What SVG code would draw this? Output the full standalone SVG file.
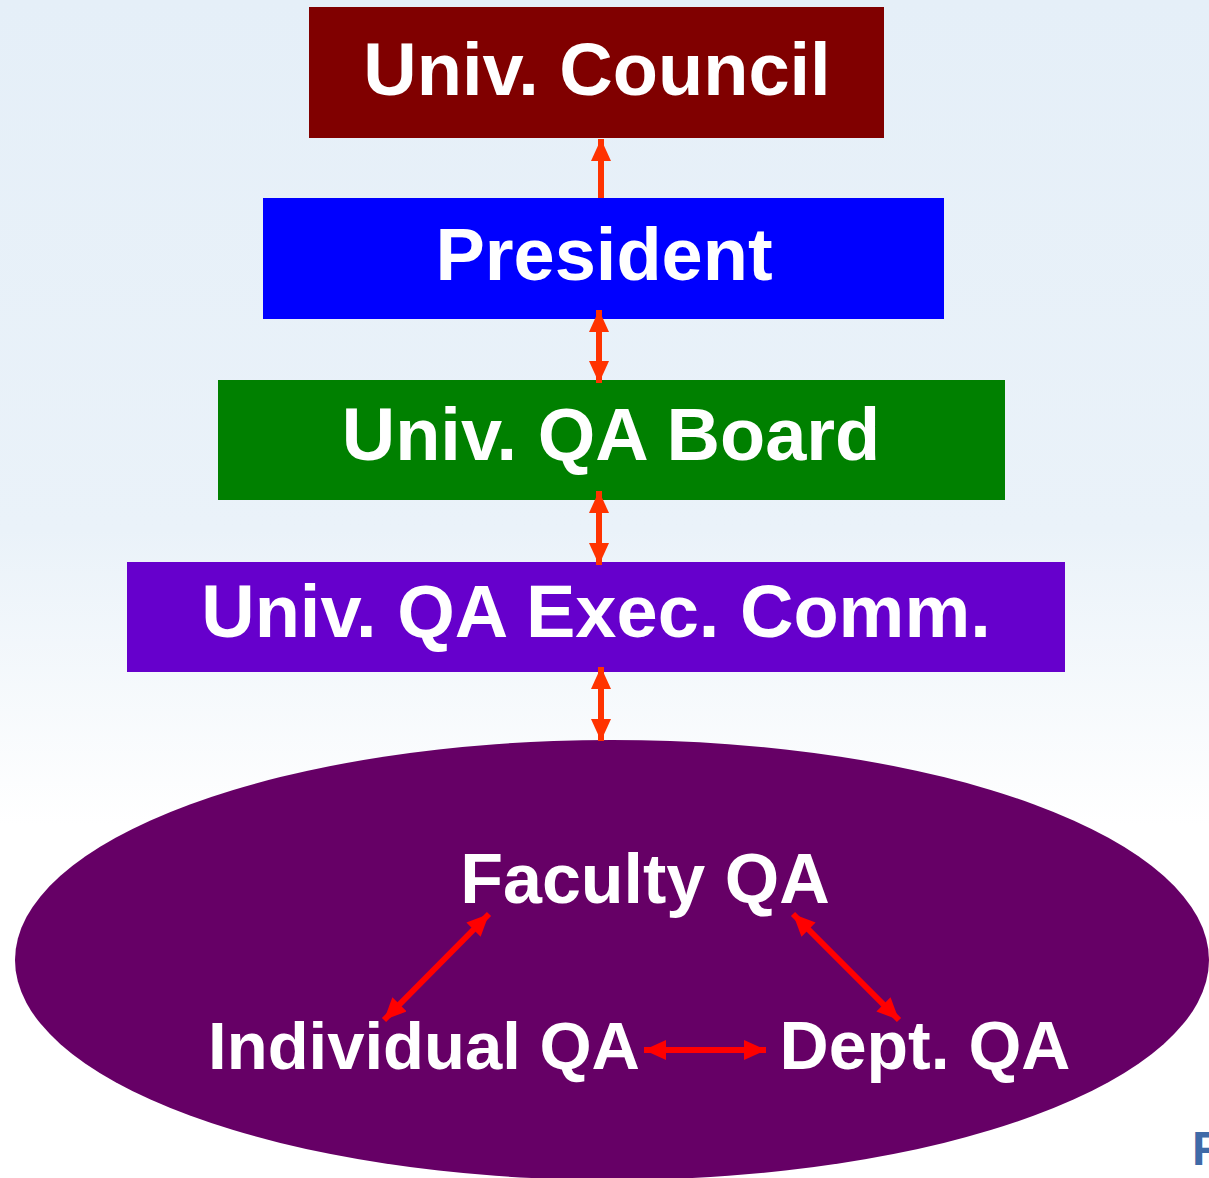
<svg xmlns="http://www.w3.org/2000/svg" width="1209" height="1178" viewBox="0 0 1209 1178">
<defs>
<linearGradient id="bg" x1="0" y1="0" x2="0" y2="1">
<stop offset="0" stop-color="#e5eff8"/>
<stop offset="0.45" stop-color="#eaf2f9"/>
<stop offset="0.7" stop-color="#ffffff"/>
<stop offset="1" stop-color="#ffffff"/>
</linearGradient>
<marker id="ao" markerUnits="userSpaceOnUse" markerWidth="22" markerHeight="20" refX="22" refY="10" orient="auto-start-reverse" viewBox="0 0 22 20">
<path d="M0,0 L22,10 L0,20 Z" fill="#ff3300"/>
</marker>
<marker id="ar" markerUnits="userSpaceOnUse" markerWidth="22" markerHeight="20" refX="22" refY="10" orient="auto-start-reverse" viewBox="0 0 22 20">
<path d="M0,0 L22,10 L0,20 Z" fill="#ff0000"/>
</marker>
<style>
.t{font-family:"Liberation Sans",Arial,sans-serif;font-weight:bold;fill:#ffffff;text-anchor:middle}
.big{font-size:74px}
.mid{font-size:68px}
.co{stroke:#ff3300;stroke-width:6;fill:none}
.cr{stroke:#ff0000;stroke-width:6;fill:none}
</style>
</defs>
<rect width="1209" height="1178" fill="url(#bg)"/>
<g id="council">
<rect x="309" y="7" width="575" height="131" fill="#800000"/>
<text class="t big" x="597" y="95">Univ. Council</text>
</g>
<g id="president">
<rect x="263" y="198" width="681" height="121" fill="#0000ff"/>
<text class="t big" x="604" y="280">President</text>
</g>
<g id="qaboard">
<rect x="218" y="380" width="787" height="120" fill="#008000"/>
<text class="t big" x="611" y="460">Univ. QA Board</text>
</g>
<g id="qaexec">
<rect x="127" y="562" width="938" height="110" fill="#6600cc"/>
<text class="t big" x="596" y="637">Univ. QA Exec. Comm.</text>
</g>
<g id="ellipse">
<ellipse cx="612" cy="960" rx="597" ry="220" fill="#660066"/>
</g>
<g id="faculty">
<text class="t" style="font-size:70px" x="645" y="903">Faculty QA</text>
</g>
<g id="individual">
<text class="t" style="font-size:67px" x="424" y="1069">Individual QA</text>
</g>
<g id="dept">
<text class="t mid" x="925" y="1069">Dept. QA</text>
</g>
<g id="connectors">
<line class="co" x1="601" y1="198" x2="601" y2="139" marker-end="url(#ao)"/>
<line class="co" x1="599" y1="310" x2="599" y2="383" marker-start="url(#ao)" marker-end="url(#ao)"/>
<line class="co" x1="599" y1="491" x2="599" y2="565" marker-start="url(#ao)" marker-end="url(#ao)"/>
<line class="co" x1="601" y1="667" x2="601" y2="741" marker-start="url(#ao)" marker-end="url(#ao)"/>
<line class="cr" x1="489" y1="914" x2="384" y2="1020" marker-start="url(#ar)" marker-end="url(#ar)"/>
<line class="cr" x1="793" y1="914" x2="899" y2="1020" marker-start="url(#ar)" marker-end="url(#ar)"/>
<line class="cr" x1="644" y1="1050" x2="766" y2="1050" marker-start="url(#ar)" marker-end="url(#ar)"/>
</g>
<text x="1192" y="1165" style="font-family:'Liberation Sans',Arial,sans-serif;font-weight:bold;font-size:48px;fill:#3f6aa8">F</text>
</svg>
